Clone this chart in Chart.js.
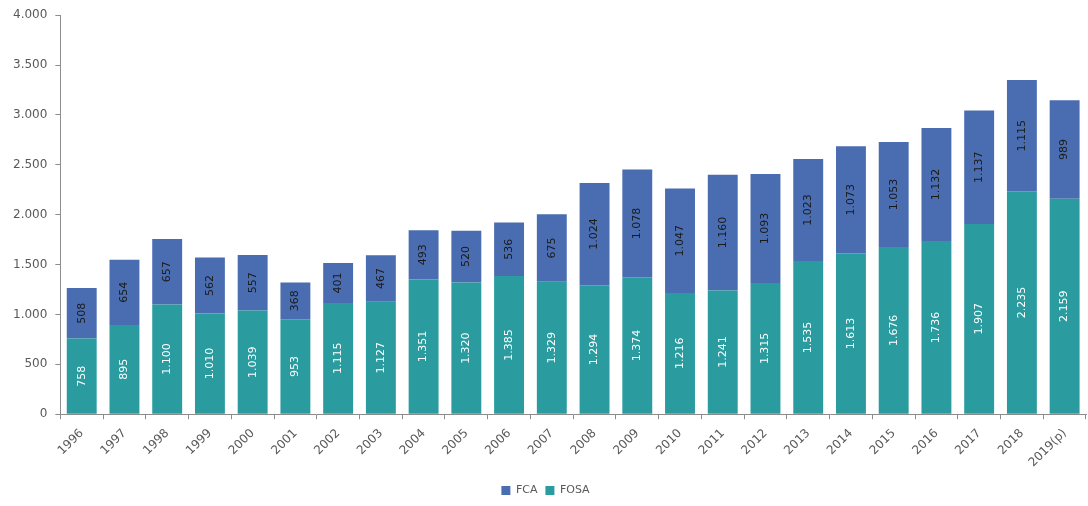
<!DOCTYPE html>
<html>
<head>
<meta charset="utf-8">
<script src="https://cdn.jsdelivr.net/npm/chart.js@4/dist/chart.umd.min.js"></script>
<style>
  html, body { margin: 0; padding: 0; background: #fff; }
  #wrap { width: 1088px; height: 506px; }
</style>
</head>
<body>
<div id="wrap"><canvas id="chart"></canvas></div>
<script>
const years = ['1996','1997','1998','1999','2000','2001','2002','2003','2004','2005','2006','2007',
               '2008','2009','2010','2011','2012','2013','2014','2015','2016','2017','2018','2019(p)'];
const fosa = [758, 895, 1100, 1010, 1039, 953, 1115, 1127, 1351, 1320, 1385, 1329,
              1294, 1374, 1216, 1241, 1315, 1535, 1613, 1676, 1736, 1907, 2235, 2159];
const fca  = [508, 654, 657, 562, 557, 368, 401, 467, 493, 520, 536, 675,
              1024, 1078, 1047, 1160, 1093, 1023, 1073, 1053, 1132, 1137, 1115, 989];

const fmt = v => v.toLocaleString('de-DE');
const axisColor = '#8c8c8c';
const textColor = '#595959';

// ── rotated value labels inside each bar ─────────────
const barLabels = {
  id: 'barLabels',
  afterDatasetsDraw(chart) {
    const ctx = chart.ctx;
    chart.data.datasets.forEach((ds, di) => {
      const meta = chart.getDatasetMeta(di);
      meta.data.forEach((bar, i) => {
        const midY = (bar.y + bar.base) / 2;
        ctx.save();
        ctx.translate(bar.x, midY);
        ctx.rotate(-Math.PI / 2);
        ctx.font = '11px "DejaVu Sans"';
        ctx.fillStyle = ds.labelColor;
        ctx.textAlign = 'center';
        ctx.textBaseline = 'middle';
        ctx.fillText(fmt(ds.data[i]), 0, 0);
        ctx.restore();
      });
    });
  }
};

new Chart(document.getElementById('chart'), {
  type: 'bar',
  data: {
    labels: years,
    datasets: [
      {
        label: 'FOSA',
        data: fosa,
        backgroundColor: '#2a9c9f',
        labelColor: '#ffffff'
      },
      {
        label: 'FCA',
        data: fca,
        backgroundColor: '#4a6db1',
        labelColor: '#1a1a1a'
      }
    ]
  },
  options: {
    responsive: true,
    maintainAspectRatio: false,
    animation: false,
    layout: { padding: { left: 5, right: 2, top: 14, bottom: 0 } },
    datasets: { bar: { categoryPercentage: 1, barPercentage: 0.7 } },
    plugins: {
      legend: {
        position: 'bottom',
        reverse: true,
        labels: {
          boxWidth: 9, boxHeight: 9, padding: 8,
          color: textColor,
          font: { family: 'DejaVu Sans', size: 11 }
        }
      },
      tooltip: { enabled: false }
    },
    scales: {
      x: {
        stacked: true,
        grid: { display: true, drawOnChartArea: false, tickLength: 5, color: axisColor },
        border: { display: true, color: axisColor },
        ticks: {
          color: textColor,
          minRotation: 45, maxRotation: 45,
          padding: 7,
          font: { family: 'DejaVu Sans', size: 12 }
        }
      },
      y: {
        stacked: true,
        min: 0, max: 4000,
        grid: { display: true, drawOnChartArea: false, tickLength: 5, color: axisColor },
        border: { display: true, color: axisColor },
        ticks: {
          stepSize: 500,
          padding: 8,
          color: textColor,
          font: { family: 'DejaVu Sans', size: 12 },
          callback: v => fmt(v)
        }
      }
    }
  },
  plugins: [barLabels]
});
</script>
</body>
</html>
